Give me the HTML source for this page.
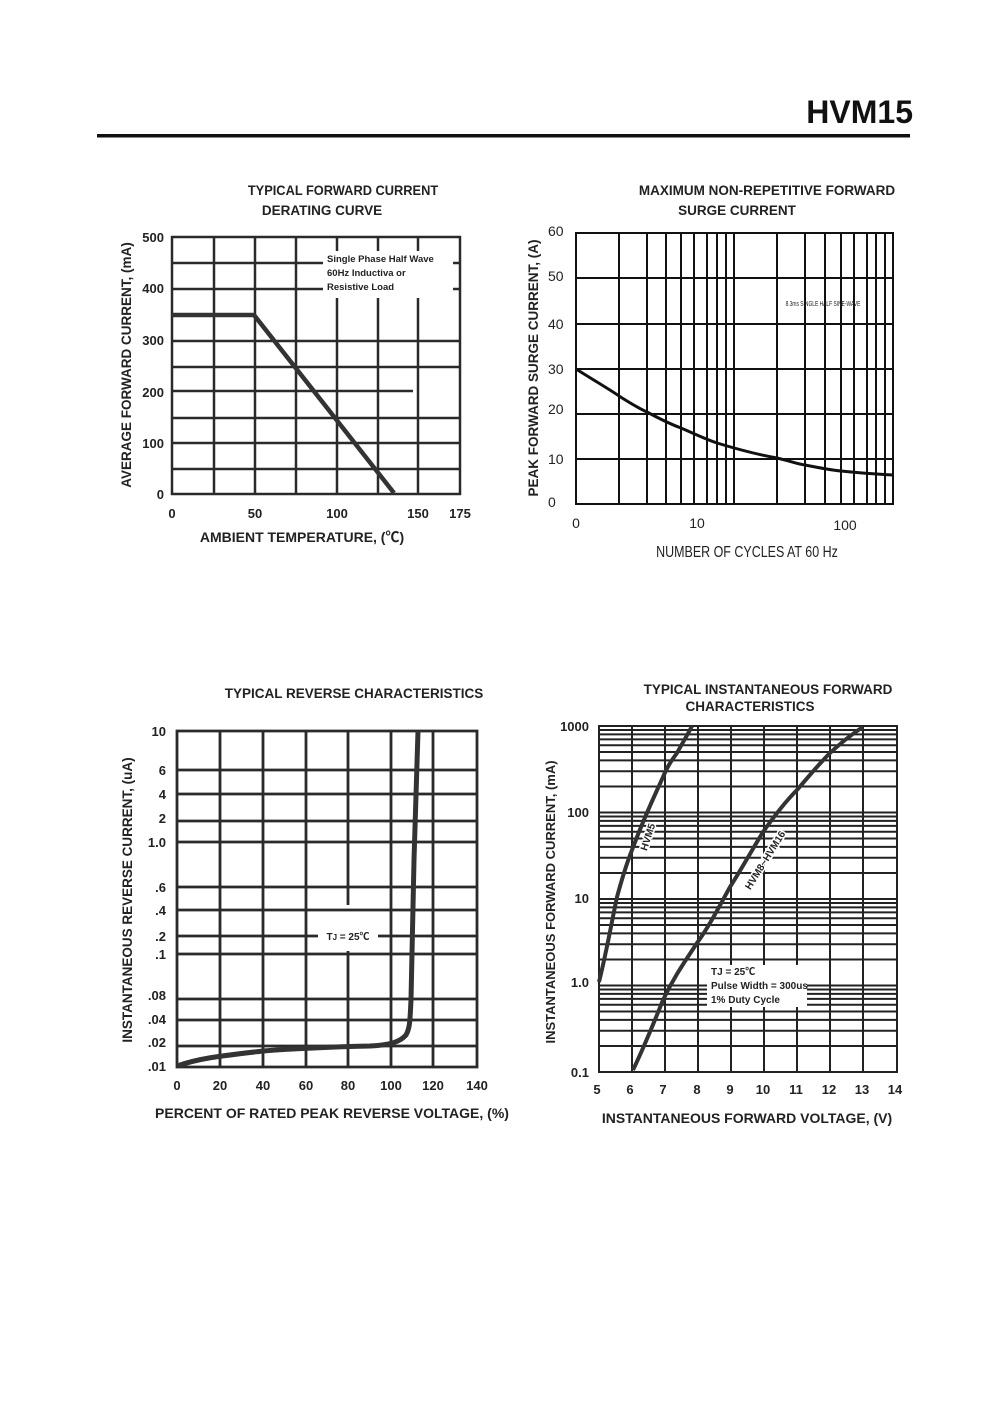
<!DOCTYPE html>
<html><head><meta charset="utf-8"><style>
html,body{margin:0;padding:0;background:#fff;}
svg{display:block;}
text{font-family:"Liberation Sans","Noto Sans CJK SC",sans-serif;fill:#222;}
.b{font-weight:bold;}
</style></head><body>
<svg width="1000" height="1415" viewBox="0 0 1000 1415" xmlns="http://www.w3.org/2000/svg">
<text x="913" y="123" text-anchor="end" class="b" font-size="32" style="fill:#111">HVM15</text>
<rect x="97" y="134" width="813" height="3.5" fill="#111"/>

<!-- Chart 1 -->
<g font-size="13" class="b">
<text x="343" y="195" text-anchor="middle" class="b" font-size="13.5" transform="translate(343 0) scale(0.95 1) translate(-343 0)">TYPICAL FORWARD CURRENT</text>
<text x="322" y="215" text-anchor="middle" class="b" font-size="13.5">DERATING CURVE</text>
</g>
<g stroke="#2a2a2a" stroke-width="2.5" fill="none">
<path d="M172 263H460M172 289H323M453 289H460M172 341H460M172 367H460M172 391H413M172 418H460M172 443H460M172 469H460"/>
<path d="M172 237H460V494H172Z"/>
<path d="M214 237V494M255 237V494M296 237V494M337 237V494M378 237V494M418 237V252M418 298V494"/>
</g>
<rect x="323" y="251" width="130" height="47" fill="#fff"/>
<g stroke="#2a2a2a" stroke-width="2.5" fill="none">
<path d="M172 315H254L394 493" stroke-width="4.5" stroke="#333"/>
</g>
<g font-size="9.5" class="b">
<text x="327" y="262">Single Phase Half Wave</text>
<text x="327" y="276">60Hz Inductiva or</text>
<text x="327" y="290">Resistive Load</text>
</g>
<g font-size="13" class="b" text-anchor="end">
<text x="164" y="242">500</text><text x="164" y="293">400</text><text x="164" y="345">300</text>
<text x="164" y="397">200</text><text x="164" y="448">100</text><text x="164" y="499">0</text>
</g>
<g font-size="13" class="b" text-anchor="middle">
<text x="172" y="518">0</text><text x="255" y="518">50</text><text x="337" y="518">100</text>
<text x="418" y="518">150</text><text x="460" y="518">175</text>
<text x="302" y="542" font-size="14">AMBIENT TEMPERATURE, (℃)</text>
<text transform="translate(131 365) rotate(-90)" font-size="13.5">AVERAGE FORWARD CURRENT, (mA)</text>
</g>

<!-- Chart 2 -->
<text x="767" y="195" text-anchor="middle" class="b" font-size="13.5">MAXIMUM NON-REPETITIVE FORWARD</text>
<text x="737" y="215" text-anchor="middle" class="b" font-size="13.5">SURGE CURRENT</text>
<g stroke="#111" stroke-width="2" fill="none">
<path d="M576 233H893V504H576Z"/>
<path d="M576 278H893M576 324H893M576 369H893M576 414H893M576 459H893"/>
<path d="M619 233V504M647 233V504M666 233V504M681 233V504M694 233V504M707 233V504M717 233V504M726 233V504M734 233V504M777 233V504M805 233V504M825 233V504M841 233V504M854 233V504M867 233V504M876 233V504M885 233V504"/>
<path d="M576 369C600 384 612 391 619 396C630 403 640 409 647 412C660 419 670 424 681 428C695 434 705 439 717 443C740 450 760 455 777 458C790 461 797 464 805 465C820 468 830 470 841 471C860 473 875 474 893 475" stroke-width="3"/>
</g>
<text x="823" y="306" font-size="7" text-anchor="middle" transform="translate(823 0) scale(0.7 1) translate(-823 0)">8.3ms SINGLE HALF SINE-WAVE</text>
<g font-size="14">
<text x="548" y="236">60</text><text x="548" y="281">50</text><text x="548" y="329">40</text>
<text x="548" y="374">30</text><text x="548" y="414">20</text><text x="548" y="464">10</text>
<text x="548" y="507">0</text>
<text x="576" y="528" text-anchor="middle">0</text>
<text x="697" y="528" text-anchor="middle">10</text>
<text x="845" y="530" text-anchor="middle">100</text>
</g>
<text x="747" y="557" text-anchor="middle" font-size="16" transform="translate(747 0) scale(0.78 1) translate(-747 0)">NUMBER OF CYCLES AT 60 Hz</text>
<text transform="translate(538 368) rotate(-90)" text-anchor="middle" class="b" font-size="13.5">PEAK FORWARD SURGE CURRENT, (A)</text>

<!-- Chart 3 -->
<text x="354" y="698" text-anchor="middle" class="b" font-size="13.5">TYPICAL REVERSE CHARACTERISTICS</text>
<g stroke="#2a2a2a" stroke-width="2.8" fill="none">
<path d="M177 731H477V1067H177Z"/>
<path d="M177 770H477M177 794H477M177 821H477M177 842H477M177 887H477M177 910H477M177 936H318M378 936H477M177 954H477M177 999H477M177 1020H477M177 1046H477"/>
<path d="M220 731V1067M263 731V1067M306 731V1067M348 731V905M348 951V1067M391 731V1067M433 731V1067"/>
<path d="M177 1066C200 1058 220 1056 263 1051C300 1048 330 1047 370 1046C390 1045 400 1042 406 1035C410 1028 410 1020 411 1000L414 860L418 731" stroke-width="5" stroke="#333"/>
</g>
<text x="348" y="940" text-anchor="middle" class="b" font-size="10">T<tspan font-size="8">J</tspan> = 25℃</text>
<g font-size="13" class="b" text-anchor="end">
<text x="166" y="736">10</text><text x="166" y="775">6</text><text x="166" y="799">4</text>
<text x="166" y="823">2</text><text x="166" y="847">1.0</text><text x="166" y="892">.6</text>
<text x="166" y="915">.4</text><text x="166" y="941">.2</text><text x="166" y="959">.1</text>
<text x="166" y="1000">.08</text><text x="166" y="1024">.04</text><text x="166" y="1047">.02</text>
<text x="166" y="1071">.01</text>
</g>
<g font-size="13" class="b" text-anchor="middle">
<text x="177" y="1090">0</text><text x="220" y="1090">20</text><text x="263" y="1090">40</text>
<text x="306" y="1090">60</text><text x="348" y="1090">80</text><text x="391" y="1090">100</text>
<text x="433" y="1090">120</text><text x="477" y="1090">140</text>
<text x="332" y="1118" font-size="14">PERCENT OF RATED PEAK REVERSE VOLTAGE, (%)</text>
<text transform="translate(132 900) rotate(-90)" font-size="13.5">INSTANTANEOUS REVERSE CURRENT, (uA)</text>
</g>

<!-- Chart 4 -->
<text x="768" y="694" text-anchor="middle" class="b" font-size="13.5">TYPICAL INSTANTANEOUS FORWARD</text>
<text x="750" y="711" text-anchor="middle" class="b" font-size="13.5">CHARACTERISTICS</text>
<g stroke="#222" stroke-width="2" fill="none">
<path d="M599 726H897V1072H599Z"/>
<path d="M599 1046H897M599 1030.7H897M599 1019.9H897M599 1011.5H897M599 1004.7H897M599 998.9H897M599 993.9H897M599 989.5H897M599 985.5H897
M599 959.5H897M599 944.2H897M599 933.4H897M599 925H897M599 918.2H897M599 912.4H897M599 907.4H897M599 903H897M599 899H897
M599 873H897M599 857.7H897M599 846.9H897M599 838.5H897M599 831.7H897M599 825.9H897M599 820.9H897M599 816.5H897M599 812.5H897
M599 786.5H897M599 771.2H897M599 760.4H897M599 752H897M599 745.2H897M599 739.4H897M599 734.4H897M599 730H897"/>
<path d="M632 726V1072M665 726V1072M698 726V1072M731 726V1072M764 726V1072M797 726V1072M830 726V1072M863 726V1072"/>
</g>
<rect x="707" y="965" width="100" height="42" fill="#fff"/>
<g stroke="#333" stroke-width="4" fill="none">
<path d="M599 982C607 950 612 920 617 897C623 875 628 860 632 850C645 815 655 795 663 777C668 765 672 760 677 753C683 742 688 734 692 726"/>
<path d="M633 1070C645 1045 655 1020 663 1000C675 975 686 960 697 943C710 925 720 905 730 887C742 868 752 850 763 832C775 815 785 802 797 790C810 775 818 765 830 753C842 742 852 734 863 727"/>
</g>
<g class="b" font-size="10">
<text transform="translate(651 838) rotate(-72)" text-anchor="middle" style="fill:#fff;stroke:#fff;stroke-width:3">HVM5</text>
<text transform="translate(651 838) rotate(-72)" text-anchor="middle">HVM5</text>
<text transform="translate(768 862) rotate(-58)" text-anchor="middle" style="fill:#fff;stroke:#fff;stroke-width:3">HVM8~HVM16</text>
<text transform="translate(768 862) rotate(-58)" text-anchor="middle">HVM8~HVM16</text>
<text x="711" y="975">TJ = 25℃</text>
<text x="711" y="989">Pulse Width = 300us</text>
<text x="711" y="1003">1% Duty Cycle</text>
</g>
<g font-size="13" class="b">
<g text-anchor="end">
<text x="589" y="731">1000</text><text x="589" y="817">100</text><text x="589" y="903">10</text>
<text x="589" y="987">1.0</text><text x="589" y="1077">0.1</text>
</g>
<g text-anchor="middle">
<text x="597" y="1094">5</text><text x="630" y="1094">6</text><text x="663" y="1094">7</text>
<text x="697" y="1094">8</text><text x="730" y="1094">9</text><text x="763" y="1094">10</text>
<text x="796" y="1094">11</text><text x="829" y="1094">12</text><text x="862" y="1094">13</text>
<text x="895" y="1094">14</text>
<text x="747" y="1123" font-size="14">INSTANTANEOUS FORWARD VOLTAGE, (V)</text>
<text transform="translate(555 902) rotate(-90)" font-size="13">INSTANTANEOUS FORWARD CURRENT, (mA)</text>
</g>
</g>
</svg>
</body></html>
